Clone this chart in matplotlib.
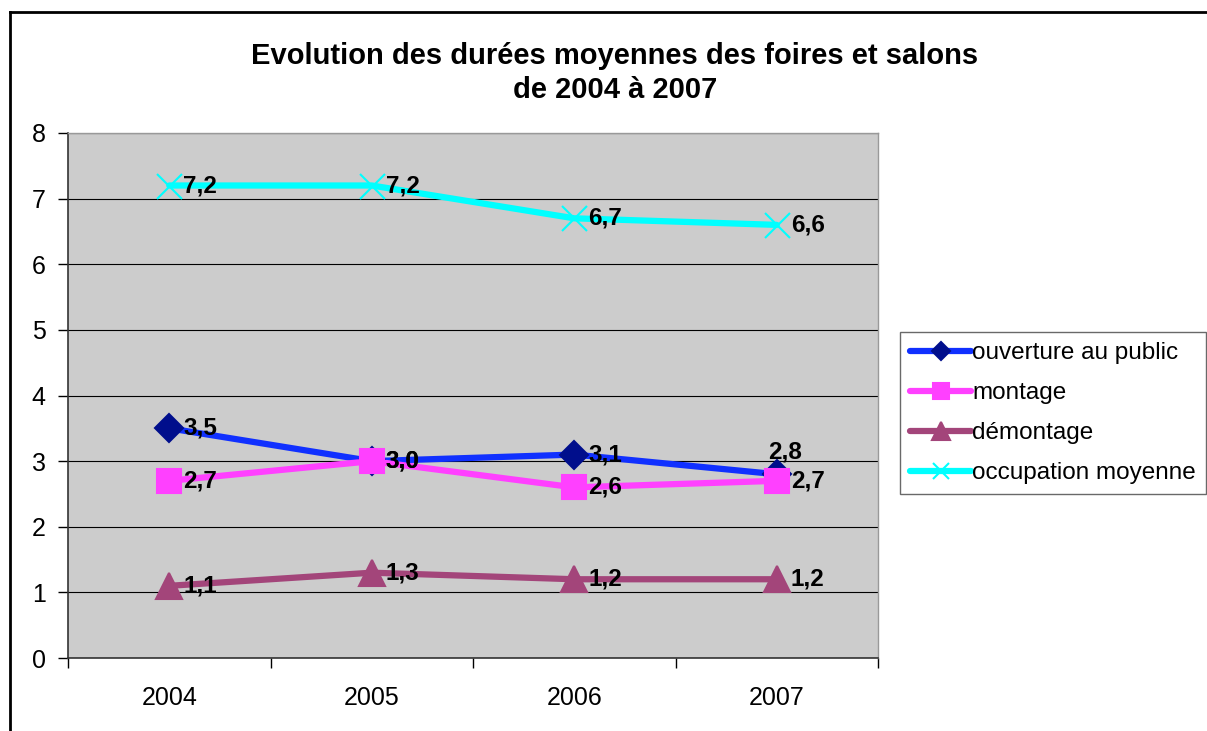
#!/usr/bin/env python3
"""Evolution des durées moyennes des foires et salons, 2004-2007"""
import matplotlib
matplotlib.use("Agg")
import matplotlib.pyplot as plt
from matplotlib.lines import Line2D

plt.rcParams['font.family'] = ['Liberation Sans', 'DejaVu Sans']

years = ['2004', '2005', '2006', '2007']
ouverture = [3.5, 3.0, 3.1, 2.8]
montage = [2.7, 3.0, 2.6, 2.7]
demontage = [1.1, 1.3, 1.2, 1.2]
occupation = [7.2, 7.2, 6.7, 6.6]

fig = plt.figure(figsize=(12.07, 7.31), dpi=100)
ax = fig.add_axes([68 / 1207, 1 - 658 / 731, 810 / 1207, 525 / 731])
ax.set_facecolor('#CCCCCC')

x = range(len(years))

# series: values, line colour, marker, marker colour, marker size
series = [
    ('ouverture au public', ouverture, '#1030FF', 'D', '#000E8C', 14),
    ('montage', montage, '#FF40FF', 's', '#FF40FF', 17),
    ('démontage', demontage, '#A3457A', '^', '#A3457A', 19),
    ('occupation moyenne', occupation, '#00FFFF', 'x', '#00FFFF', 18),
]

for name, vals, col, mk, mcol, ms in series:
    ax.plot(x, vals, color=col, lw=4.5, marker=mk, markersize=ms,
            markerfacecolor=mcol, markeredgecolor=mcol, markeredgewidth=1.5,
            label=name, solid_capstyle='round', zorder=3)
    for i, v in enumerate(vals):
        txt = f'{v:.1f}'.replace('.', ',')
        if name == 'ouverture au public' and i == 3:
            ax.annotate(txt, (i, v), xytext=(6, 8), textcoords='offset points',
                        ha='center', va='bottom', fontsize=17.5, fontweight='bold',
                        zorder=5)
        else:
            ax.annotate(txt, (i, v), xytext=(10, 0), textcoords='offset points',
                        ha='left', va='center', fontsize=17.5, fontweight='bold',
                        zorder=5)

ax.set_xlim(-0.5, 3.5)
ax.set_ylim(0, 8)
ax.set_yticks(range(0, 9))
ax.yaxis.grid(True, color='black', lw=0.8)
ax.set_axisbelow(True)

ax.set_xticks([-0.5, 0.5, 1.5, 2.5, 3.5])
ax.set_xticklabels([])
ax.set_xticks(list(x), minor=True)
ax.set_xticklabels(years, minor=True)
ax.tick_params(axis='x', which='major', direction='out', length=7, width=1)
ax.tick_params(axis='x', which='minor', length=0, pad=20, labelsize=18)
ax.tick_params(axis='y', direction='out', length=7, width=1, labelsize=18, pad=9)

for s in ['left', 'bottom']:
    ax.spines[s].set_color('#333333')
    ax.spines[s].set_linewidth(1.2)
for s in ['top', 'right']:
    ax.spines[s].set_color('#999999')
    ax.spines[s].set_linewidth(1)

fig.text(615 / 1207, 1 - 73 / 731,
         'Evolution des durées moyennes des foires et salons\nde 2004 à 2007',
         ha='center', va='center', fontsize=21, fontweight='bold',
         linespacing=1.25)

leg = ax.legend(loc='upper left', bbox_to_anchor=(900 / 1207, 1 - 332 / 731),
                bbox_transform=fig.transFigure, fontsize=17.5, frameon=True,
                fancybox=False, edgecolor='#444444', handlelength=2.5,
                handletextpad=0.05, borderpad=0.42, labelspacing=0.74,
                borderaxespad=0, markerscale=0.65)
leg.get_frame().set_linewidth(1)

# chart outer border (left and top edges visible)
fig.add_artist(Line2D([10 / 1207, 10 / 1207], [0, 1 - 12 / 731],
                      transform=fig.transFigure, color='black', lw=2))
fig.add_artist(Line2D([10 / 1207, 1], [1 - 12 / 731, 1 - 12 / 731],
                      transform=fig.transFigure, color='black', lw=2))

fig.savefig('out.png', dpi=100)
